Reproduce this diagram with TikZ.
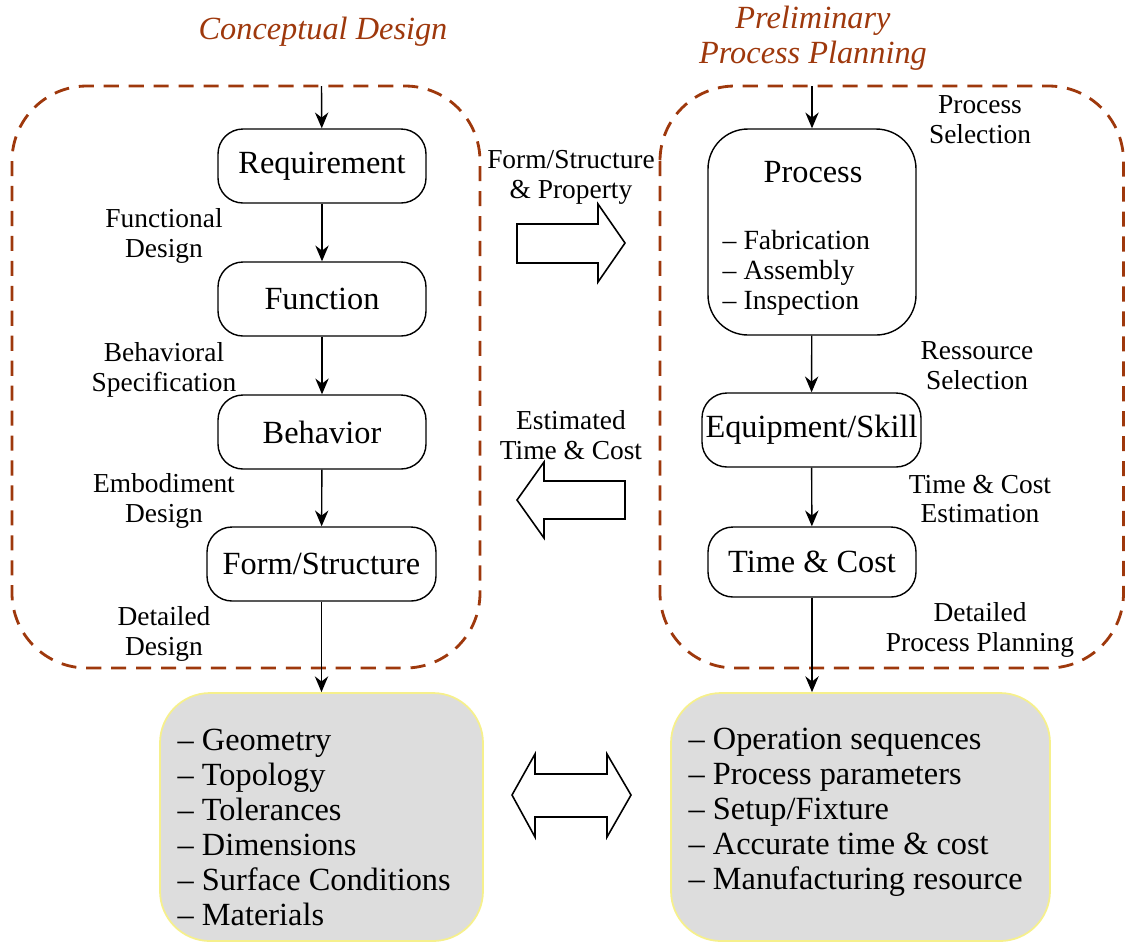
\documentclass[tikz,border=0pt]{standalone}
\usepackage{fontspec}
\setmainfont{Liberation Serif}
\usetikzlibrary{arrows.meta}

\definecolor{rust}{RGB}{158,56,12}
\definecolor{panel}{RGB}{221,221,221}
\definecolor{rim}{RGB}{246,240,140}

\tikzset{
    stage/.style={draw, rounded corners=0.25cm, minimum width=2.08cm, minimum height=0.74cm,
                  font=\fontsize{9.2}{10}\selectfont},
    note/.style={align=center, font=\fontsize{7.8}{8.5}\selectfont},
    flow/.style={-{Stealth[length=4.5pt,width=3.8pt]}},
    phase/.style={draw=rust, dash pattern=on 4.3pt off 2.8pt, line width=0.8pt, rounded corners=0.75cm},
    result/.style={draw=rim, fill=panel, rounded corners=0.5cm, line width=0.5pt},
    items/.style={align=left, anchor=north west, inner sep=0pt, font=\fontsize{9.2}{10}\selectfont},
    title/.style={align=center, text=rust, font=\fontsize{9.2}{10}\selectfont\itshape},
    blockarrow/.style={draw, line width=0.45pt, line join=miter, fill=white}
}

\begin{document}
\begin{tikzpicture}
    \useasboundingbox (0,0) rectangle (11.26,-9.43);

    % phases
    \draw [phase] (0.12,-0.86) rectangle (4.80,-6.68);
    \draw [phase] (6.60,-0.86) rectangle (11.235,-6.68);

    \node [title] (cdtitle) at (3.23,-0.32) {Conceptual Design};
    \node [title] (pptitle) at (8.13,-0.385) {Preliminary\\Process Planning};

    \coordinate (cdin) at (3.215,-0.86);
    \coordinate (ppin) at (8.12,-0.86);

    % conceptual design
    \node [stage] (req)  at (3.22,-1.66) {Requirement};
    \node [stage] (fun)  at (3.22,-2.99) {Function};
    \node [stage] (beh)  at (3.22,-4.32) {Behavior};
    \node [stage, minimum width=2.29cm] (form) at (3.215,-5.64) {Form/Structure};

    \node [note] (fd)  at (1.64,-2.36) {Functional\\Design};
    \node [note] (bs)  at (1.64,-3.70) {Behavioral\\Specification};
    \node [note] (ed)  at (1.64,-5.01) {Embodiment\\Design};
    \node [note] (dd)  at (1.64,-6.34) {Detailed\\Design};

    % process planning
    \node [draw, rounded corners=0.4cm, minimum width=2.08cm, minimum height=2.06cm] (proc) at (8.12,-2.32) {};
    \node [font=\fontsize{9.2}{10}\selectfont] (proctitle) at (8.13,-1.72) {Process};
    \node [items, font=\fontsize{7.9}{8.5}\selectfont] (proclist) at (7.22,-2.30)
        {-- Fabrication\\-- Assembly\\-- Inspection};
    \node [stage, minimum width=2.15cm, inner xsep=1pt] (equip) at (8.115,-4.30) {Equipment/Skill};
    \node [stage, minimum height=0.70cm] (tc) at (8.12,-5.62) {Time \& Cost};

    \node [note] (ps)  at (9.80,-1.20) {Process\\Selection};
    \node [note] (rs)  at (9.77,-3.66) {Ressource\\Selection};
    \node [note] (tce) at (9.80,-4.99) {Time \& Cost\\Estimation};
    \node [note] (dpp) at (9.80,-6.30) {Detailed\\Process Planning};

    % results
    \node [result, minimum width=3.23cm, minimum height=2.48cm] (geo) at (3.215,-8.17) {};
    \node [items] (geolist) at (1.77,-7.28)
        {-- Geometry\\-- Topology\\-- Tolerances\\-- Dimensions\\-- Surface Conditions\\-- Materials};
    \node [result, minimum width=3.79cm, minimum height=2.48cm] (ops) at (8.605,-8.17) {};
    \node [items] (opslist) at (6.88,-7.27)
        {-- Operation sequences\\-- Process parameters\\-- Setup/Fixture\\-- Accurate time \& cost\\-- Manufacturing resource};

    % flows
    \draw [flow] (cdin) -- (req);
    \draw [flow] (req) -- (fun);
    \draw [flow] (fun) -- (beh);
    \draw [flow] (beh) -- (form);
    \draw [flow] (form) -- (geo);
    \draw [flow] (ppin) -- (proc);
    \draw [flow] (proc) -- (equip);
    \draw [flow] (equip) -- (tc);
    \draw [flow] (tc.south) -- (tc.south |- ops.north);

    % exchanges between the phases
    \node [note] (fsp) at (5.71,-1.77) {Form/Structure\\\& Property};
    \node [note] (etc) at (5.71,-4.35) {Estimated\\Time \& Cost};

    \draw [blockarrow] (5.17,-2.24) -- (5.98,-2.24) -- (5.98,-2.04) -- (6.25,-2.43)
        -- (5.98,-2.82) -- (5.98,-2.63) -- (5.17,-2.63) -- cycle;
    \draw [blockarrow] (6.25,-4.81) -- (5.44,-4.81) -- (5.44,-4.62) -- (5.17,-5.00)
        -- (5.44,-5.38) -- (5.44,-5.19) -- (6.25,-5.19) -- cycle;
    \draw [blockarrow] (5.12,-7.95) -- (5.35,-7.54) -- (5.35,-7.74) -- (6.07,-7.74) -- (6.07,-7.54)
        -- (6.31,-7.95) -- (6.07,-8.37) -- (6.07,-8.17) -- (5.35,-8.17) -- (5.35,-8.37) -- cycle;

\end{tikzpicture}
\end{document}
